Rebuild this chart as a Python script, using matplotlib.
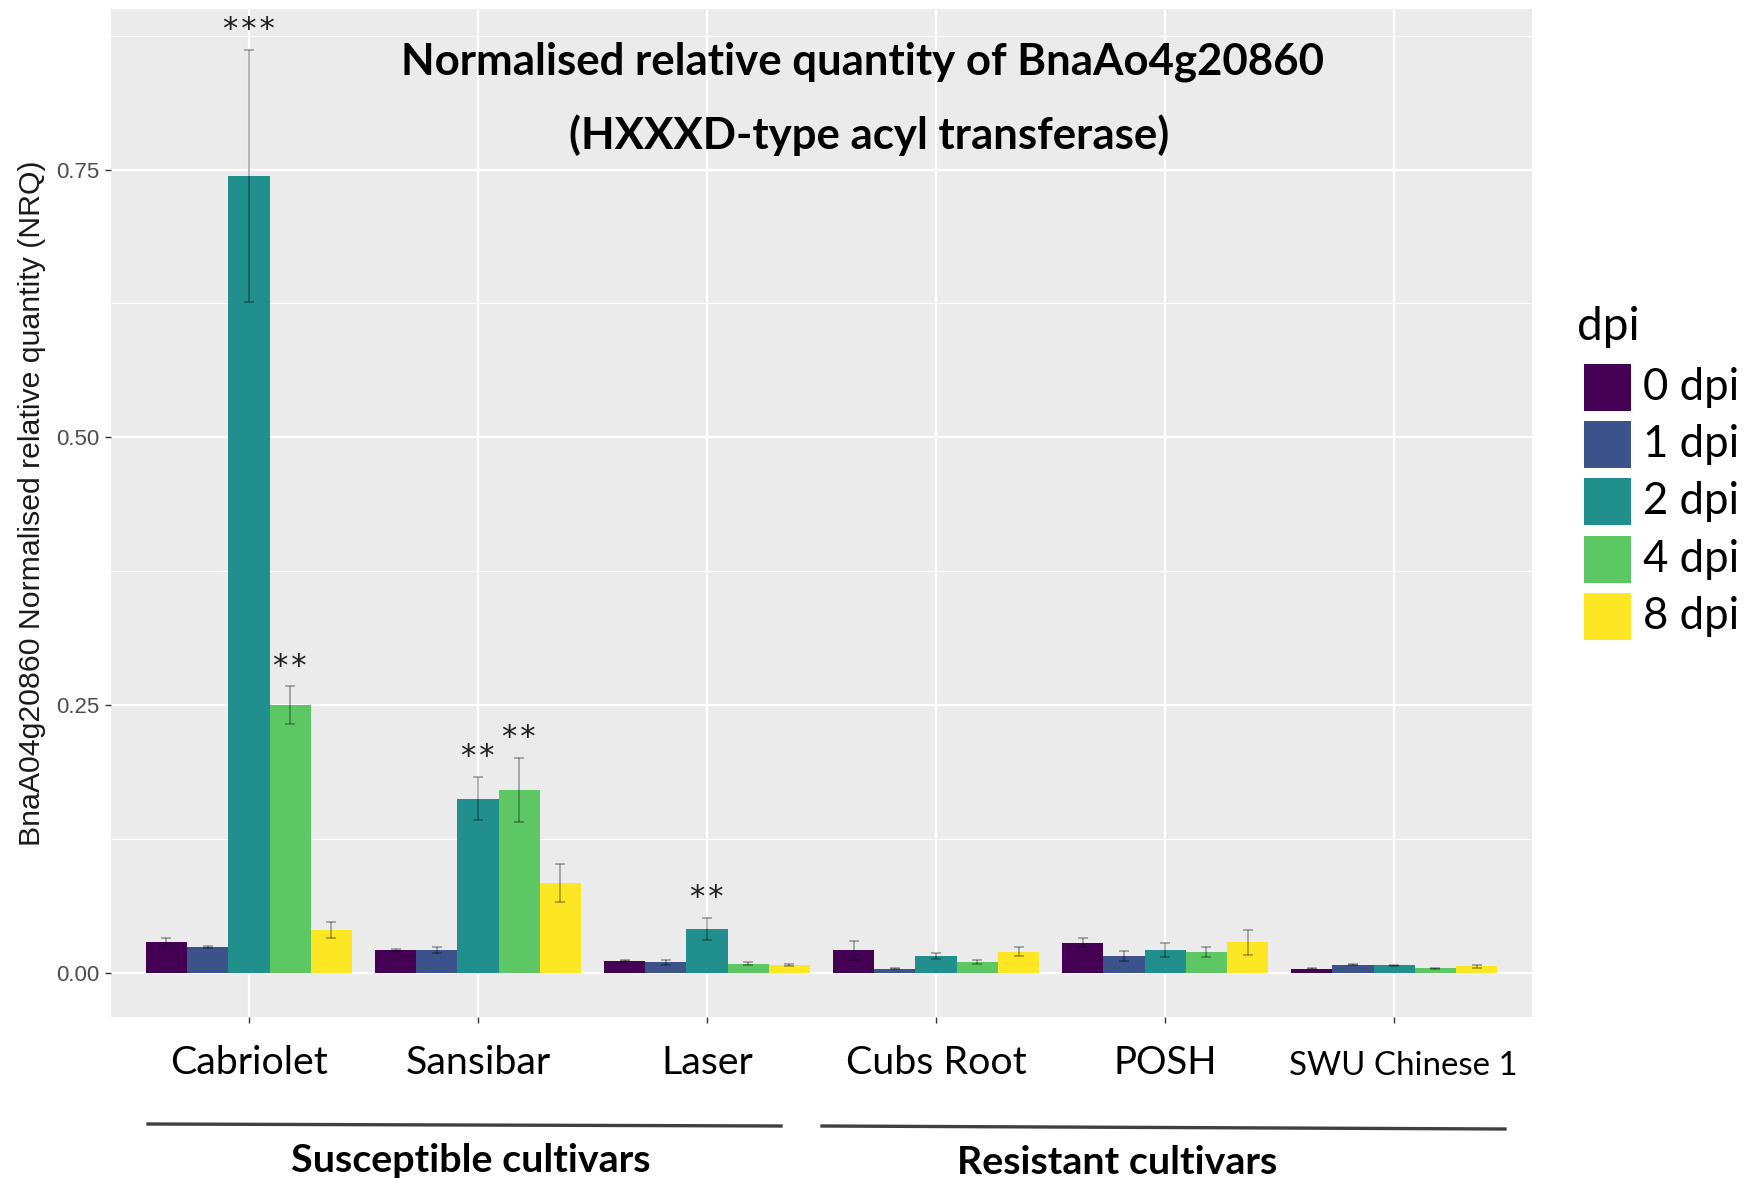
import matplotlib
matplotlib.use("Agg")
import matplotlib.pyplot as plt
from matplotlib.lines import Line2D
from matplotlib.patches import Rectangle
import numpy as np

# ---------------- data ----------------
cultivars = ["Cabriolet", "Sansibar", "Laser", "Cubs Root", "POSH", "SWU Chinese 1"]
dpi_labels = ["0 dpi", "1 dpi", "2 dpi", "4 dpi", "8 dpi"]
colors = ["#440154", "#3B528B", "#21908C", "#5DC863", "#FDE725"]

nrq_0dpi = [0.0286, 0.0213, 0.0112, 0.0209, 0.0280, 0.0037]
nrq_1dpi = [0.0240, 0.0213, 0.0096, 0.0037, 0.0156, 0.0072]
nrq_2dpi = [0.7440, 0.1625, 0.0405, 0.0156, 0.0209, 0.0068]
nrq_4dpi = [0.2500, 0.1707, 0.0084, 0.0100, 0.0193, 0.0040]
nrq_8dpi = [0.0396, 0.0836, 0.0072, 0.0196, 0.0283, 0.0059]

err_0dpi = [0.0040, 0.0010, 0.0005, 0.0086, 0.0042, 0.0003]
err_1dpi = [0.0010, 0.0030, 0.0023, 0.0005, 0.0051, 0.0005]
err_2dpi = [0.1180, 0.0200, 0.0103, 0.0030, 0.0064, 0.0005]
err_4dpi = [0.0174, 0.0298, 0.0015, 0.0023, 0.0044, 0.0005]
err_8dpi = [0.0074, 0.0180, 0.0006, 0.0042, 0.0120, 0.0015]

sig_0dpi = ["", "", "", "", "", ""]
sig_1dpi = ["", "", "", "", "", ""]
sig_2dpi = ["***", "**", "**", "", "", ""]
sig_4dpi = ["**", "**", "", "", "", ""]
sig_8dpi = ["", "", "", "", "", ""]

y_ticks = [0.00, 0.25, 0.50, 0.75]
y_tick_labels = ["0.00", "0.25", "0.50", "0.75"]

title_line1 = "Normalised relative quantity of BnaAo4g20860"
title_line2 = "(HXXXD-type acyl transferase)"
y_label = "BnaA04g20860 Normalised relative quantity (NRQ)"
legend_title = "dpi"
group_labels = ["Susceptible cultivars", "Resistant cultivars"]

values = [nrq_0dpi, nrq_1dpi, nrq_2dpi, nrq_4dpi, nrq_8dpi]
errors = [err_0dpi, err_1dpi, err_2dpi, err_4dpi, err_8dpi]
sigs = [sig_0dpi, sig_1dpi, sig_2dpi, sig_4dpi, sig_8dpi]

# ---------------- figure ----------------
W, H = 1749, 1178
fig = plt.figure(figsize=(W / 100, H / 100), dpi=100)
fig.patch.set_facecolor("white")

def fx(px):
    return px / W

def fy(py):
    return 1 - py / H

ax = fig.add_axes([fx(111.5), fy(1017), fx(1531.6) - fx(111.5), fy(9) - fy(1017)])
ax.set_facecolor("#EBEBEB")
for s in ax.spines.values():
    s.set_visible(False)

n = len(dpi_labels)
bw = 0.18
xc = np.arange(len(cultivars))
for j in range(n):
    xs = xc + (j - (n - 1) / 2) * bw
    ax.bar(xs, values[j], width=bw, color=colors[j], zorder=3, label=dpi_labels[j])
    ax.errorbar(xs, values[j], yerr=errors[j], fmt="none", ecolor=(0, 0, 0, 0.35),
                elinewidth=1.2, capsize=3.8, capthick=1.2, zorder=4)
    for k in range(len(cultivars)):
        if sigs[j][k]:
            ax.text(xs[k], values[j][k] + errors[j][k] + 0.019,
                    "\u200a".join(sigs[j][k]),
                    ha="center", va="center", fontsize=22, color="#1E1E1E",
                    family="DejaVu Sans", zorder=5)

ax.set_xlim(-0.6, len(cultivars) - 0.4)
ax.set_ylim(-0.0414, 0.900)

# grid
ax.set_yticks(y_ticks)
ax.set_yticks([0.125, 0.375, 0.625, 0.875], minor=True)
ax.set_xticks(xc)
ax.grid(which="major", color="white", linewidth=1.6, zorder=0)
ax.grid(which="minor", axis="y", color="white", linewidth=0.8, zorder=0)
ax.set_axisbelow(True)
ax.tick_params(axis="both", which="major", color="#333333", length=4, width=1)
ax.tick_params(axis="y", which="major", pad=5)
ax.tick_params(axis="y", which="minor", length=0)
ax.set_yticklabels(y_tick_labels, fontsize=16, color="#4D4D4D", family="Liberation Sans")
ax.set_xticklabels([])

# x category labels
tick_sizes = [28.4, 28.4, 28.4, 28.4, 27.5, 23.8]
tick_y = [1063, 1063, 1063, 1063, 1063, 1066]
tick_dx = [0, 0, 0, 0, 0, 9]
for k, name in enumerate(cultivars):
    ax.annotate(name, xy=(xc[k], fy(tick_y[k])), xycoords=("data", "figure fraction"),
                xytext=(tick_dx[k] * 0.72, 0), textcoords="offset points",
                ha="center", va="center", fontsize=tick_sizes[k], family="Lato",
                annotation_clip=False)

# y label
fig.text(fx(32), fy(503.5), y_label, rotation=90, ha="center", va="center",
         fontsize=21.8, family="Liberation Sans", color="#1A1A1A")

# title
fig.text(fx(863), fy(62), title_line1, ha="center", va="center",
         fontsize=31.5, fontweight="bold", family="Lato")
fig.text(fx(869.5), fy(135), title_line2, ha="center", va="center",
         fontsize=31.5, fontweight="bold", family="Lato")

# group lines and labels
fig.add_artist(Line2D([fx(148), fx(781)], [fy(1124), fy(1126)], color="#404040", linewidth=2.4))
fig.add_artist(Line2D([fx(822), fx(1505)], [fy(1126), fy(1129)], color="#404040", linewidth=2.4))
fig.text(fx(471), fy(1160), group_labels[0], ha="center", va="center",
         fontsize=28.4, fontweight="bold", family="Lato")
fig.text(fx(1117.5), fy(1162), group_labels[1], ha="center", va="center",
         fontsize=28.4, fontweight="bold", family="Lato")

# legend (drawn manually)
fig.text(fx(1577), fy(327), legend_title, ha="left", va="center",
         fontsize=33, family="Lato")
key_left, key_w, key_h, key_top0, key_pitch = 1584, 47, 46.8, 363.7, 57.4
for j in range(n):
    top = key_top0 + j * key_pitch
    fig.add_artist(Rectangle((fx(key_left), fy(top + key_h)), fx(key_w), key_h / H,
                             facecolor=colors[j], edgecolor="none",
                             transform=fig.transFigure))
    fig.text(fx(1643), fy(top + key_h / 2), dpi_labels[j], ha="left", va="center",
             fontsize=31.5, family="Lato")

fig.savefig("out.png", dpi=100, facecolor="white")
